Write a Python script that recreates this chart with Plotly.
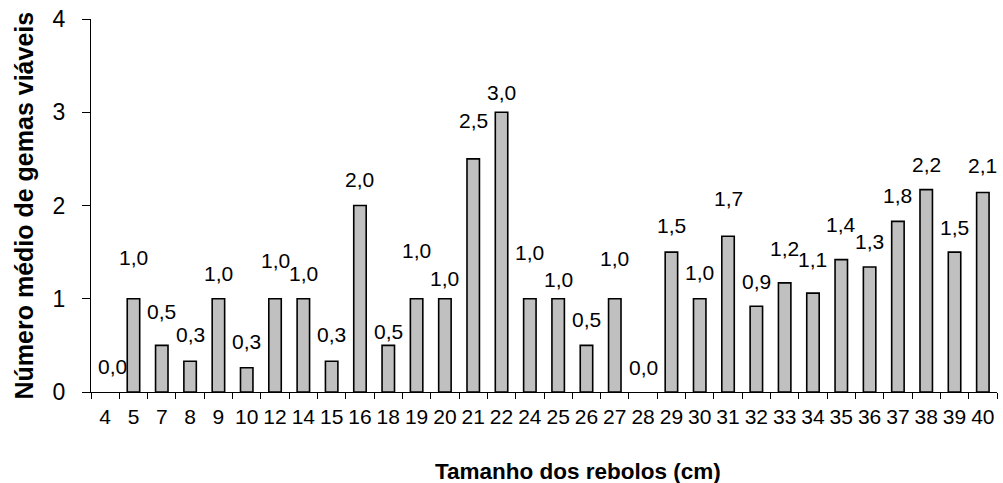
import plotly.graph_objects as go

# Tamanho dos rebolos (cm) and mean number of viable buds per size
sizes = ["4", "5", "7", "8", "9", "10", "12", "14", "15", "16", "18", "19", "20",
         "21", "22", "24", "25", "26", "27", "28", "29", "30", "31", "32", "33",
         "34", "35", "36", "37", "38", "39", "40"]
mean_buds = [0.0, 1.0, 0.5, 0.33, 1.0, 0.26, 1.0, 1.0, 0.33, 2.0, 0.5, 1.0, 1.0,
             2.5, 3.0, 1.0, 1.0, 0.5, 1.0, 0.0, 1.5, 1.0, 1.67, 0.92, 1.17,
             1.06, 1.42, 1.34, 1.83, 2.17, 1.5, 2.14]

# vertical lift (px) of each value label above its bar, and horizontal nudge
label_lift = [26, 41, 34, 27, 25, 26, 38, 25, 27, 26, 14, 48, 20,
              38, 20, 46, 19, 26, 40, 25, 27, 26, 38, 25, 34,
              34, 35, 26, 26, 25, 25, 27]
label_nudge = [7] + [0] * 31

FONT = "Arial, 'Liberation Sans', sans-serif"

# empty bars get no outline so nothing sits on the baseline
outline = [1.6 if v > 0 else 0 for v in mean_buds]

fig = go.Figure()
fig.add_trace(go.Bar(
    x=sizes,
    y=mean_buds,
    marker=dict(color="#c0c0c0", line=dict(color="black", width=outline)),
    hoverinfo="x+y",
))

# value labels, placed by category index on the category axis
for i, (v, dy, dx) in enumerate(zip(mean_buds, label_lift, label_nudge)):
    fig.add_annotation(
        x=i, y=v, text=f"{v:.1f}".replace(".", ","),
        showarrow=False, xanchor="center", yanchor="middle",
        yshift=dy, xshift=dx,
        font=dict(family=FONT, size=21, color="black"),
    )

# axis titles
fig.add_annotation(
    xref="paper", yref="paper", x=0, y=0.5, xshift=-68,
    text="<b>Número médio de gemas viáveis</b>", textangle=-90,
    showarrow=False, xanchor="center", yanchor="middle",
    font=dict(family=FONT, size=25, color="black"),
)
fig.add_annotation(
    xref="paper", yref="paper", x=0.5, y=0, yshift=-79, xshift=34,
    text="<b>Tamanho dos rebolos (cm)</b>",
    showarrow=False, xanchor="center", yanchor="middle",
    font=dict(family=FONT, size=22.5, color="black"),
)

fig.update_layout(
    width=1003, height=483,
    margin=dict(l=91, r=6, t=15, b=91),
    paper_bgcolor="white", plot_bgcolor="white",
    bargap=0.56,
    showlegend=False,
    font=dict(family=FONT, color="black"),
)
fig.update_xaxes(
    type="category",
    range=[-0.5, len(sizes) - 0.5],
    tickmode="array", tickvals=sizes, ticktext=sizes, tickangle=0,
    showline=True, linecolor="black", linewidth=1,
    ticks="outside", tickson="boundaries", ticklen=6, tickcolor="black",
    tickfont=dict(family=FONT, size=21, color="black"),
    ticklabelstandoff=6,
    showgrid=False, zeroline=False,
)
fig.update_yaxes(
    range=[0, 4], tickvals=[0, 1, 2, 3, 4],
    showline=True, linecolor="black", linewidth=1,
    ticks="outside", ticklen=8, tickcolor="black",
    tickfont=dict(family=FONT, size=23, color="black"),
    ticklabelstandoff=12,
    showgrid=False, zeroline=False,
)

fig.write_html("out.html")
